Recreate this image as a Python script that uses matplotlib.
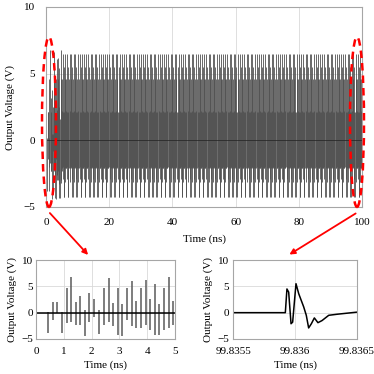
import matplotlib
matplotlib.use('Agg')
import matplotlib.pyplot as plt
import numpy as np
from matplotlib.patches import Ellipse, FancyArrowPatch

plt.rcParams['font.family'] = ['Liberation Serif', 'DejaVu Serif']
plt.rcParams['font.size'] = 8

# --- data ------------------------------------------------------------------
# start-up pulses, 0-5 ns inset: time (ns), upper and lower extent (V)
spike_t = [0.43, 0.60, 0.75, 0.93, 1.10, 1.26, 1.43, 1.59, 1.76, 1.92,
           2.09, 2.27, 2.45, 2.61, 2.77, 2.94, 3.10, 3.27, 3.44, 3.60,
           3.77, 3.94, 4.10, 4.27, 4.44, 4.61, 4.78, 4.94]
spike_hi = [0.2, 2.1, 2.1, 0.2, 4.6, 6.8, 2.1, 3.2, 0.5, 3.8,
            2.5, 0.5, 4.6, 6.6, 1.8, 4.7, 1.6, 4.6, 6.1, 2.3,
            4.6, 6.2, 2.5, 5.4, 1.6, 4.6, 6.8, 2.2]
spike_lo = [-3.8, -1.4, 0.0, -3.8, -2.0, -1.7, -2.3, -2.3, -4.4, -1.7,
            -0.8, -4.0, -2.3, -1.7, -2.6, -4.3, -4.4, -1.4, -2.6, -3.0,
            -3.0, -2.3, -3.3, -4.3, -4.3, -3.2, -3.0, -2.3]

# steady-state repeating group of 8 pulses (levels seen in the 100 ns trace)
cycle_hi = [4.6, 6.5, 2.1, 5.5, 2.1, 4.6, 6.5, 2.2]
cycle_lo = [-2.1, -2.0, -2.9, -4.25, -4.25, -2.1, -3.1, -2.1]
pulse_period = 0.1667   # ns between pulses
t_end = 99.84           # ns, last pulse

# single pulse near 99.836 ns (time offset in ps from 99.8355 ns, V)
pulse_ps = [0.0, 0.422, 0.435, 0.449, 0.468, 0.481, 0.508, 0.530, 0.570,
            0.591, 0.610, 0.632, 0.656, 0.685, 0.718, 0.772, 0.839, 0.919, 1.0]
pulse_v = [0.0, 0.0, 4.5, 3.9, -2.1, -1.8, 5.5, 3.6, 1.1,
           -0.5, -2.9, -2.1, -1.0, -1.9, -1.5, -0.5, -0.3, -0.1, 0.1]

# full 100 ns record: start-up pulses then the repeating group
ss_t = np.arange(spike_t[-1] + pulse_period, t_end, pulse_period)
reps = int(np.ceil(len(ss_t) / len(cycle_hi)))
all_t = np.concatenate([spike_t, ss_t])
all_hi = np.concatenate([spike_hi, np.tile(cycle_hi, reps)[:len(ss_t)]])
all_lo = np.concatenate([spike_lo, np.tile(cycle_lo, reps)[:len(ss_t)]])

W = H = 374.0


def px(x, y):
    return x / W, 1 - y / H


def style(ax, xt, yt, xpad, ypad):
    ax.set_xticks(xt)
    ax.set_yticks(yt)
    ax.set_ylim(-5, 10)
    ax.tick_params(length=0, pad=0)
    ax.tick_params(axis='x', pad=xpad)
    ax.tick_params(axis='y', pad=ypad)
    for s in ax.spines.values():
        s.set_color('#a6a6a6')
        s.set_linewidth(0.8)
    ax.grid(True, color='#d9d9d9', lw=0.6)
    ax.set_axisbelow(True)
    ax.set_ylabel('Output Voltage (V)')
    ax.set_xlabel('Time (ns)')


fig = plt.figure(figsize=(3.74, 3.74), dpi=100)

# main trace
ax = fig.add_axes([46 / W, 1 - 207 / H, 316 / W, 200 / H])
ax.vlines(all_t, all_lo, all_hi, color='#505050', lw=0.6)
ax.plot(np.concatenate([[0], all_t, [100]]), np.zeros(len(all_t) + 2),
        color='#222222', lw=0.5)
ax.set_xlim(0, 100)
style(ax, [0, 20, 40, 60, 80, 100], [-5, 0, 5, 10], 8, 8)
ax.xaxis.labelpad = 5
ax.yaxis.labelpad = 6

# 0-5 ns zoom
ax2 = fig.add_axes([36 / W, 1 - 339 / H, 139 / W, 79 / H])
ax2.vlines(spike_t, spike_lo, spike_hi, color='#5a5a5a', lw=1.1)
ax2.plot(np.concatenate([[0], spike_t, [5]]), np.zeros(len(spike_t) + 2),
         color='black', lw=1.1)
ax2.set_xlim(0, 5)
style(ax2, [0, 1, 2, 3, 4, 5], [-5, 0, 5, 10], 6, 2)
ax2.xaxis.labelpad = 3
ax2.yaxis.labelpad = 3

# single pulse zoom
ax3 = fig.add_axes([233 / W, 1 - 339 / H, 124 / W, 79 / H])
ax3.plot(99.8355 + np.array(pulse_ps) * 1e-3, pulse_v, color='black', lw=1.1)
ax3.set_xlim(99.8355, 99.8365)
style(ax3, [99.8355, 99.836, 99.8365], [-5, 0, 5, 10], 6, 3)
ax3.set_xticklabels(['99.8355', '99.836', '99.8365'])
ax3.xaxis.labelpad = 3
ax3.yaxis.labelpad = 3

# red dashed ellipses and arrows
for cx in (49, 357):
    e = Ellipse(px(cx, 122), 14 / W, 170 / H, transform=fig.transFigure,
                fill=False, ec='red', lw=1.8, ls=(0, (3, 2)), zorder=10)
    fig.patches.append(e)

fig.add_artist(FancyArrowPatch(
    px(48, 211), px(90, 257), transform=fig.transFigure,
    arrowstyle='-|>', mutation_scale=8, color='red', lw=1.3))
fig.add_artist(FancyArrowPatch(
    px(358, 212), px(287, 256), transform=fig.transFigure,
    arrowstyle='-|>', mutation_scale=8, color='red', lw=1.3))

fig.savefig('out.png', dpi=100)
